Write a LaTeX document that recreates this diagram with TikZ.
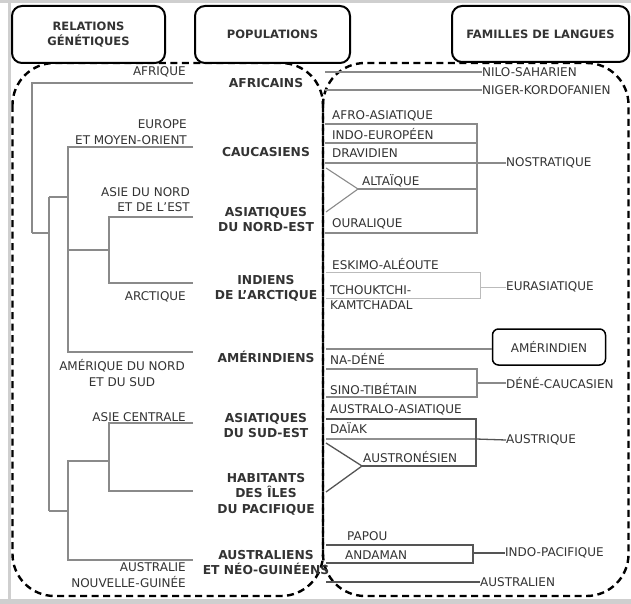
\documentclass[tikz,border=0pt]{standalone}
\usepackage{fontspec}
\setmainfont{DejaVu Sans}
\begin{document}
\begin{tikzpicture}[x=1pt,y=-1pt]
\definecolor{txt}{HTML}{333333}
\definecolor{treegray}{HTML}{8A8A8A}
\definecolor{lightg}{HTML}{BBBBBB}
\definecolor{darkg}{HTML}{555555}
\definecolor{frameg}{HTML}{CFCFCF}
\tikzset{
  tree/.style={draw=treegray, line width=1.1pt},
  faint/.style={draw=lightg, line width=1pt},
  darkline/.style={draw=darkg, line width=1.3pt},
  lbl/.style={font=\fontsize{12}{15.5}\selectfont, text=txt, inner sep=0pt},
  popl/.style={font=\bfseries\fontsize{12.3}{15.5}\selectfont, text=txt, inner sep=0pt, align=center},
  head/.style={draw=black, line width=2pt, rounded corners=10pt, fill=white, text=txt,
    font=\bfseries\fontsize{11.5}{15}\selectfont, align=center, inner sep=0pt},
  dashbox/.style={draw=black, line width=2.4pt, dash pattern=on 7pt off 4.5pt, rounded corners=42pt},
  smallbox/.style={draw=black, line width=1.5pt, rounded corners=6pt, fill=white, text=txt,
    font=\fontsize{12}{15}\selectfont, inner sep=0pt, minimum width=113pt, minimum height=36pt}
}
\useasboundingbox (0,0) rectangle (631,604);
\fill[white] (0,0) rectangle (631,604);
% outer frame
\draw[frameg, line width=3pt] (0,1.5) -- (631,1.5);
\draw[frameg, line width=3pt] (9.5,0) -- (9.5,604);
\draw[frameg, line width=5pt] (0,601.5) -- (631,601.5);

% dashed regions
\draw[dashbox] (12.5,63) rectangle (323,596);
\draw[dashbox] (323,63) rectangle (628.5,596);

% headers
\node[head, minimum width=153pt, minimum height=57pt] (hRel) at (88.5,34.5) {RELATIONS\\GÉNÉTIQUES};
\node[head, minimum width=155pt, minimum height=57pt] (hPop) at (272.5,34.5) {POPULATIONS};
\node[head, minimum width=177pt, minimum height=56pt] (hFam) at (540.5,34) {FAMILLES DE LANGUES};

% ---------------- left tree ----------------
\coordinate (tAfr) at (193,83);
\coordinate (tEur) at (193,147);
\coordinate (tAsn) at (193,217);
\coordinate (tArc) at (193,283);
\coordinate (tAme) at (193,352);
\coordinate (tAsc) at (193,423);
\coordinate (tHab) at (193,491);
\coordinate (tAus) at (193,560);
\coordinate (nA) at (109,250);
\coordinate (nB) at (68,197);
\coordinate (nC) at (109,461);
\coordinate (nD) at (68,511);
\coordinate (nE) at (49,233);
\coordinate (nR) at (32,233);

\draw[tree] (tAsn) -| (nA) |- (tArc);
\draw[tree] (nA) -- (nA -| nB);
\draw[tree] (tEur) -| (nB) |- (tAme);
\draw[tree] (nB) -- (nB -| nE);
\draw[tree] (tAsc) -| (nC) |- (tHab);
\draw[tree] (nC) -- (nC -| nD) -- (nD) |- (tAus);
\draw[tree] (nD) -- (nD -| nE);
\draw[tree] (nB -| nE) -- (nD -| nE);
\draw[tree] (nE) -- (nR);
\draw[tree] (tAfr) -| (nR);

% left labels
\node[lbl, anchor=east] (lAfr) at (186,72) {AFRIQUE};
\node[lbl, anchor=east, align=right] (lEur) at (187,132) {EUROPE\\ET MOYEN-ORIENT};
\node[lbl, anchor=east, align=right] (lAsn) at (190,199.5) {ASIE DU NORD\\ET DE L'EST};
\node[lbl, anchor=east] (lArc) at (186,297) {ARCTIQUE};
\node[lbl, align=center] (lAme) at (122,373) {AMÉRIQUE DU NORD\\ET DU SUD};
\node[lbl, anchor=east] (lAsc) at (186,417) {ASIE CENTRALE};
\node[lbl, anchor=east, align=right] (lAus) at (186,575) {AUSTRALIE\\NOUVELLE-GUINÉE};

% populations
\node[popl] (pAfr) at (266,83) {AFRICAINS};
\node[popl] (pCau) at (266,152) {CAUCASIENS};
\node[popl] (pAsn) at (266,219.5) {ASIATIQUES\\DU NORD-EST};
\node[popl] (pInd) at (266,288.5) {INDIENS\\DE L'ARCTIQUE};
\node[popl] (pAme) at (266,357) {AMÉRINDIENS};
\node[popl] (pAse) at (266,425.5) {ASIATIQUES\\DU SUD-EST};
\node[popl] (pHab) at (266,494) {HABITANTS\\DES ÎLES\\DU PACIFIQUE};
\node[popl] (pAus) at (266,562.5) {AUSTRALIENS\\ET NÉO-GUINÉENS};

% ---------------- right side ----------------
% Nilo-Saharan, Niger-Kordofanian
\node[lbl, anchor=west] (fNilo) at (482,72) {NILO-SAHARIEN};
\node[lbl, anchor=west] (fNiger) at (482,90) {NIGER-KORDOFANIEN};
\coordinate (sNilo) at (325,72);
\coordinate (sNiger) at (325,90);
\draw[tree] (sNilo) -- (fNilo.west);
\draw[tree] (sNiger) -- (fNiger.west);

% Nostratic
\coordinate (b1a) at (325,124); \coordinate (b1b) at (477,124);
\coordinate (b2a) at (325,143); \coordinate (b2b) at (477,143);
\coordinate (b3a) at (325,163); \coordinate (b3b) at (477,163);
\coordinate (b5a) at (325,233); \coordinate (b5b) at (477,233);
\coordinate (chA) at (326,168); \coordinate (chT) at (358,189); \coordinate (chB) at (326,212);
\coordinate (b4b) at (477,189);
\node[lbl, anchor=west] (fNos) at (506,163) {NOSTRATIQUE};
\draw[tree] (b1a) -- (b1b) -- (b5b) -- (b5a);
\draw[tree] (b2a) -- (b2b);
\draw[tree] (b3a) -- (b3b) -- (fNos.west);
\draw[tree] (chA) -- (chT) -- (chB);
\draw[tree] (chT) -- (b4b);
\node[lbl, anchor=west] (fAfro) at (332,116) {AFRO-ASIATIQUE};
\node[lbl, anchor=west] (fIndo) at (332,134) {INDO-EUROPÉEN};
\node[lbl, anchor=west] (fDrav) at (332,153) {DRAVIDIEN};
\node[lbl, anchor=west] (fAlt) at (362,181) {ALTAÏQUE};
\node[lbl, anchor=west] (fOur) at (332,224) {OURALIQUE};

% Eurasiatic
\coordinate (e1a) at (326,272); \coordinate (e1b) at (480,272);
\coordinate (e2a) at (326,298); \coordinate (e2b) at (480,298);
\coordinate (eM) at (480,287);
\node[lbl, anchor=west] (fEur) at (506,287) {EURASIATIQUE};
\draw[faint] (e1a) -- (e1b) -- (e2b) -- (e2a);
\draw[faint] (eM) -- (fEur.west);
\node[lbl, anchor=west] (fEsk) at (332,264) {ESKIMO-ALÉOUTE};
\node[lbl, anchor=west, align=left] (fTch) at (330,297.5) {TCHOUKTCHI-\\KAMTCHADAL};

% Amerind
\node[smallbox] (fAmer) at (549,347) {AMÉRINDIEN};
\coordinate (sAmer) at (326,349);
\draw[tree] (sAmer) -- (sAmer -| fAmer.west);

% Dene-Caucasian
\coordinate (d1a) at (326,369); \coordinate (d1b) at (477,369);
\coordinate (d2a) at (326,397); \coordinate (d2b) at (477,397);
\coordinate (dM) at (477,383);
\node[lbl, anchor=west] (fDene) at (506,383) {DÉNÉ-CAUCASIEN};
\draw[tree] (d1a) -- (d1b) -- (d2b) -- (d2a);
\draw[tree] (dM) -- (fDene.west);
\node[lbl, anchor=west] (fNa) at (330,359) {NA-DÉNÉ};
\node[lbl, anchor=west] (fSino) at (330,389) {SINO-TIBÉTAIN};

% Austric
\coordinate (a1a) at (326,419); \coordinate (a1b) at (476,419);
\coordinate (a2a) at (326,439); \coordinate (a2b) at (476,439);
\coordinate (a3b) at (476,466);
\coordinate (ahA) at (326,443); \coordinate (ahT) at (362,466); \coordinate (ahB) at (326,492);
\node[lbl, anchor=west] (fAustq) at (506,440) {AUSTRIQUE};
\draw[darkline] (a1a) -- (a1b) -- (a3b) -- (ahT);
\draw[darkline] (a2a) -- (a2b) -- (fAustq.west);
\draw[darkline] (ahA) -- (ahT) -- (ahB);
\node[lbl, anchor=west] (fAa) at (330,410) {AUSTRALO-ASIATIQUE};
\node[lbl, anchor=west] (fDai) at (330,428) {DAÏAK};
\node[lbl, anchor=west] (fAun) at (363,457) {AUSTRONÉSIEN};

% Indo-Pacific
\coordinate (i1a) at (326,545); \coordinate (i1b) at (473,545);
\coordinate (i2a) at (326,563); \coordinate (i2b) at (473,563);
\coordinate (iM) at (473,553);
\node[lbl, anchor=west] (fIP) at (505,553) {INDO-PACIFIQUE};
\draw[darkline] (i1a) -- (i1b) -- (i2b) -- (i2a);
\draw[darkline] (iM) -- (fIP.west);
\node[lbl, anchor=west] (fPap) at (347,536) {PAPOU};
\node[lbl, anchor=west] (fAnd) at (345,555) {ANDAMAN};

% Australian
\node[lbl, anchor=west] (fAusn) at (480,582) {AUSTRALIEN};
\coordinate (sAusn) at (326,582);
\draw[darkline] (sAusn) -- (fAusn.west);
\end{tikzpicture}
\end{document}
